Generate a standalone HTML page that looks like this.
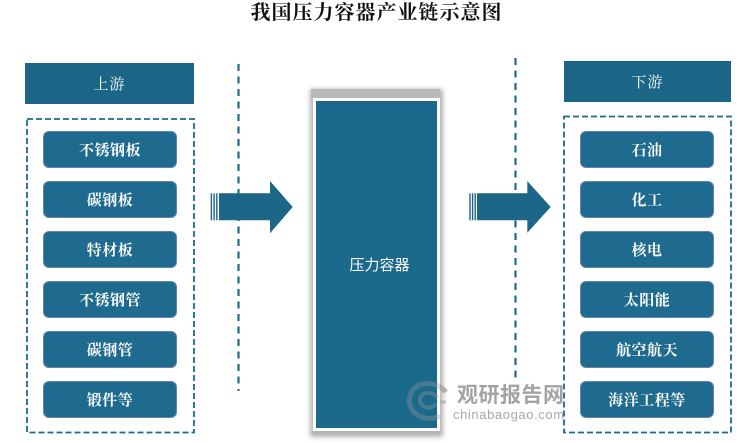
<!DOCTYPE html>
<html>
<head>
<meta charset="utf-8">
<style>
  html,body{margin:0;padding:0;background:#fff;}
  body{width:750px;height:443px;position:relative;overflow:hidden;
       font-family:"Liberation Serif","Noto Serif CJK SC",serif;}
  .abs{position:absolute;}
  .title{left:0;top:1px;width:753px;text-align:center;font-size:20px;letter-spacing:1px;
         font-weight:bold;color:#111;line-height:24px;
         font-family:"Liberation Serif","Noto Serif CJK SC",serif;}
  .hdr{background:#1b6686;color:#fff;font-size:15px;text-align:center;display:flex;
       align-items:center;justify-content:center;letter-spacing:1px;}
  .item{background:#1e6b8f;border:1px solid #6583ab;border-radius:6px;color:#fff;
        font-size:15px;font-weight:bold;display:flex;align-items:center;justify-content:center;
        box-sizing:border-box;letter-spacing:0.5px;}
  .center{left:313px;top:98px;width:127px;height:333px;background:#fff;box-sizing:border-box;
          padding:3px;}
  .center .in{width:100%;height:100%;background:#1b6a8c;color:#fff;display:flex;align-items:center;
          justify-content:center;font-size:15px;
          font-family:"Liberation Sans","Noto Sans CJK SC",sans-serif;padding-left:6px;box-sizing:border-box;}
</style>
</head>
<body>
<div class="abs title">我国压力容器产业链示意图</div>

<svg class="abs" style="left:0;top:0" width="750" height="443" viewBox="0 0 750 443">
  <defs>
    <filter id="bl" x="-20%" y="-20%" width="140%" height="140%"><feGaussianBlur stdDeviation="2.5"/></filter>
  </defs>
  <!-- center box shadow -->
  <rect x="310" y="89" width="133" height="348" fill="#b3b3b3" filter="url(#bl)"/>
  <rect x="311" y="89" width="129" height="10" fill="#b8b8b8"/>

  <!-- watermark -->
  <g opacity="0.55" fill="none" stroke="#9a9a9a">
    <path d="M446 392 C436 380 414 380 410 396 C406 412 424 424 440 416" stroke-width="5"/>
    <path d="M438 398 C432 390 420 392 420 400 C420 408 432 410 436 404" stroke-width="4"/>
    <path d="M428 402 L446 402" stroke-width="3"/>
  </g>
  <text x="457" y="402" font-family="Liberation Sans, Noto Sans CJK SC, sans-serif" font-size="21" font-weight="bold" fill="#a3a3a3" letter-spacing="0.5">观研报告网</text>
  <text x="453" y="419" font-family="Liberation Sans, sans-serif" font-size="13" fill="#a8a8a8" letter-spacing="0.6">chinabaogao.com</text>

  <!-- vertical dashed lines -->
  <line x1="238.5" y1="64" x2="238.5" y2="391" stroke="#1e6a8c" stroke-width="2.2" stroke-dasharray="7 5.5"/>
  <line x1="515.5" y1="58" x2="515.5" y2="383" stroke="#1e6a8c" stroke-width="2.2" stroke-dasharray="7 5.5"/>

  <!-- dashed group boxes -->
  <rect x="27" y="119" width="167" height="313.5" fill="#fff" stroke="#1e6a8c" stroke-width="1.8" stroke-dasharray="6 3"/>
  <rect x="564" y="116.5" width="167" height="316" fill="#fff" stroke="#1e6a8c" stroke-width="1.8" stroke-dasharray="6 3"/>

  <!-- left arrow -->
  <g fill="#1c6687">
    <rect x="210.7" y="193.3" width="1.4" height="27"/>
    <rect x="213.4" y="193.3" width="1.4" height="27"/>
    <rect x="216.1" y="193.3" width="1.4" height="27"/>
    <polygon points="219,193.3 270,193.3 270,181 292.7,207 270,233.3 270,220.3 219,220.3"/>
  </g>
  <!-- right arrow -->
  <g fill="#1c6687">
    <rect x="469.3" y="193.3" width="1.4" height="27"/>
    <rect x="471.9" y="193.3" width="1.4" height="27"/>
    <rect x="474.5" y="193.3" width="1.4" height="27"/>
    <polygon points="477,193.3 527.3,193.3 527.3,181 550.7,207 527.3,232.7 527.3,220.3 477,220.3"/>
  </g>
</svg>

<!-- headers -->
<div class="abs hdr" style="left:25px;top:63px;width:169px;height:41px;">上游</div>
<div class="abs hdr" style="left:564px;top:61px;width:167px;height:41px;">下游</div>

<!-- left items -->
<div class="abs item" style="left:43px;top:131px;width:134px;height:37px;">不锈钢板</div>
<div class="abs item" style="left:43px;top:181px;width:134px;height:37px;">碳钢板</div>
<div class="abs item" style="left:43px;top:231px;width:134px;height:37px;">特材板</div>
<div class="abs item" style="left:43px;top:281px;width:134px;height:37px;">不锈钢管</div>
<div class="abs item" style="left:43px;top:331px;width:134px;height:37px;">碳钢管</div>
<div class="abs item" style="left:43px;top:381px;width:134px;height:37px;">锻件等</div>

<!-- right items -->
<div class="abs item" style="left:580px;top:131px;width:134px;height:37px;">石油</div>
<div class="abs item" style="left:580px;top:181px;width:134px;height:37px;">化工</div>
<div class="abs item" style="left:580px;top:231px;width:134px;height:37px;">核电</div>
<div class="abs item" style="left:580px;top:281px;width:134px;height:37px;">太阳能</div>
<div class="abs item" style="left:580px;top:331px;width:134px;height:37px;">航空航天</div>
<div class="abs item" style="left:580px;top:381px;width:134px;height:37px;">海洋工程等</div>

<!-- center box -->
<div class="abs center"><div class="in">压力容器</div></div>

<!-- watermark logo over the center box edge (semi-transparent) -->
<svg class="abs" style="left:400px;top:375px" width="55" height="50" viewBox="0 0 55 50">
  <g opacity="0.35" fill="none" stroke="#9a9a9a">
    <path d="M46 17 C36 5 14 5 10 21 C6 37 24 49 40 41" stroke-width="5"/>
    <path d="M38 23 C32 15 20 17 20 25 C20 33 32 35 36 29" stroke-width="4"/>
  </g>
</svg>
</body>
</html>
